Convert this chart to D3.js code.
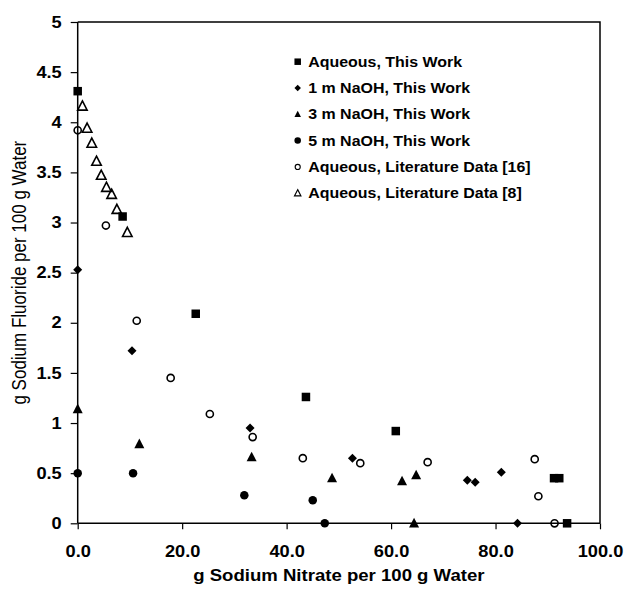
<!DOCTYPE html>
<html>
<head>
<meta charset="utf-8">
<script src="https://cdn.jsdelivr.net/npm/d3@7"></script>
<style>
  body { margin: 0; background: #fff; }
  text { font-family: "Liberation Sans", Arial, sans-serif; fill: #000; }
</style>
</head>
<body>
<script>
var w = 626;
var h = 592;

// tick values
var xTicks = [0, 20, 40, 60, 80, 100];
var yTicks = [0, 0.5, 1, 1.5, 2, 2.5, 3, 3.5, 4, 4.5, 5];

// series (g NaNO3 / 100 g water, g NaF / 100 g water)
var aqX = [0, 8.6, 22.6, 43.7, 60.9, 91.2, 92.2, 93.7];
var aqY = [4.31, 3.06, 2.09, 1.26, 0.92, 0.45, 0.45, 0];

var naoh1X = [0, 10.4, 33.0, 52.6, 74.6, 76.1, 81.1, 84.2];
var naoh1Y = [2.53, 1.72, 0.95, 0.65, 0.43, 0.41, 0.51, 0];

var naoh3X = [0, 11.8, 33.3, 48.7, 62.1, 64.8, 64.4];
var naoh3Y = [1.14, 0.79, 0.66, 0.45, 0.42, 0.48, 0];

var naoh5X = [0, 10.6, 31.9, 45.0, 47.3];
var naoh5Y = [0.50, 0.50, 0.28, 0.23, 0];

var lit16X = [0, 5.4, 11.3, 17.8, 25.3, 33.5, 43.1, 54.1, 67.0, 87.5, 88.2, 91.3];
var lit16Y = [3.92, 2.97, 2.02, 1.45, 1.09, 0.86, 0.65, 0.60, 0.61, 0.64, 0.27, 0];

var lit8X = [0.9, 1.8, 2.7, 3.6, 4.5, 5.5, 6.5, 7.5, 9.5];
var lit8Y = [4.16, 3.94, 3.79, 3.61, 3.47, 3.35, 3.28, 3.13, 2.90];

var seriesNames = [
    "Aqueous, This Work",
    "1 m NaOH, This Work",
    "3 m NaOH, This Work",
    "5 m NaOH, This Work",
    "Aqueous, Literature Data [16]",
    "Aqueous, Literature Data [8]"
];

var margin = {left: 77.7, top: 22, right: 26, bottom: 68.7};
var sx = 1.14; // the original picture is a bit wide

var xScale = d3.scaleLinear()
    .domain([0, 100])
    .range([margin.left, w - margin.right]);

var yScale = d3.scaleLinear()
    .domain([0, 5])
    .range([h - margin.bottom, margin.top]);

var svg = d3.select("body")
    .append("svg")
    .attr("width", w)
    .attr("height", h);

// frame (top and right)
svg.append("path")
    .attr("d", "M" + xScale(0) + "," + yScale(5) + "H" + xScale(100) + "V" + yScale(0))
    .attr("fill", "none")
    .attr("stroke", "#000")
    .attr("stroke-width", 1.5);

var xAxis = d3.axisBottom(xScale)
    .tickValues(xTicks)
    .tickSize(6)
    .tickPadding(16)
    .tickFormat(d3.format(".1f"));

var gx = svg.append("g")
    .attr("transform", "translate(0," + yScale(0) + ")")
    .call(xAxis);

var yAxis = d3.axisLeft(yScale)
    .tickValues(yTicks)
    .tickSize(7)
    .tickPadding(7)
    .tickFormat(function(d) { return String(d); });

var gy = svg.append("g")
    .attr("transform", "translate(" + xScale(0) + ",0)")
    .call(yAxis);

// plain axis lines without outer ticks
gx.select(".domain").attr("d", "M" + xScale(0) + ",0H" + xScale(100));
gy.select(".domain").attr("d", "M0," + yScale(0) + "V" + yScale(5));

[gx, gy].forEach(function(g) {
    g.select(".domain").attr("stroke-width", 1.5);
    g.selectAll(".tick line").attr("stroke-width", 1.2);
    g.selectAll("text")
        .attr("font-size", 16)
        .attr("font-weight", "bold")
        .attr("font-family", "'Liberation Sans', Arial, sans-serif")
        .attr("transform", "scale(" + sx + ",1)");
});

// axis titles
svg.append("text")
    .attr("text-anchor", "middle")
    .attr("font-size", 16.3)
    .attr("font-weight", "bold")
    .attr("transform", "translate(" + ((xScale(0) + xScale(100)) / 2) + ",581) scale(" + sx + ",1)")
    .text("g Sodium Nitrate per 100 g Water");

svg.append("text")
    .attr("text-anchor", "middle")
    .attr("font-size", 17)
    .attr("transform", "translate(26," + ((yScale(0) + yScale(5)) / 2) + ") scale(" + sx + ",1) rotate(-90)")
    .text("g Sodium Fluoride per 100 g Water");

// marker drawing
function drawMarker(sel, kind, s) {
    if (kind === "square") {
        return sel.append("rect")
            .attr("x", -s / 2).attr("y", -s / 2)
            .attr("width", s).attr("height", s)
            .attr("fill", "#000");
    }
    if (kind === "diamond") {
        return sel.append("path")
            .attr("d", "M0," + (-s / 2) + "L" + (s / 2) + ",0L0," + (s / 2) + "L" + (-s / 2) + ",0Z")
            .attr("fill", "#000");
    }
    if (kind === "triangle" || kind === "otriangle") {
        var t = s * 0.55;
        var p = sel.append("path")
            .attr("d", "M0," + (-t) + "L" + (s / 2) + "," + (t * 0.75) + "L" + (-s / 2) + "," + (t * 0.75) + "Z");
        if (kind === "triangle") return p.attr("fill", "#000");
        return p.attr("fill", "none").attr("stroke", "#000").attr("stroke-width", s > 7 ? 1.6 : 1.1);
    }
    if (kind === "circle") {
        return sel.append("circle").attr("r", s / 2).attr("fill", "#000");
    }
    if (kind === "ocircle") {
        return sel.append("circle").attr("r", s / 2 - 0.7)
            .attr("fill", "none").attr("stroke", "#000").attr("stroke-width", s > 7 ? 1.6 : 1.1);
    }
}

var series = [
    {x: aqX, y: aqY, kind: "square", size: 8.5},
    {x: naoh1X, y: naoh1Y, kind: "diamond", size: 9},
    {x: naoh3X, y: naoh3Y, kind: "triangle", size: 10},
    {x: naoh5X, y: naoh5Y, kind: "circle", size: 8.5},
    {x: lit16X, y: lit16Y, kind: "ocircle", size: 8.5},
    {x: lit8X, y: lit8Y, kind: "otriangle", size: 9.5}
];

series.forEach(function(s) {
    var pts = s.x.map(function(v, i) { return [v, s.y[i]]; });
    svg.append("g")
        .selectAll("g")
        .data(pts)
        .enter()
        .append("g")
        .attr("transform", function(d) {
            return "translate(" + xScale(d[0]) + "," + yScale(d[1]) + ")";
        })
        .each(function() { drawMarker(d3.select(this), s.kind, s.size); });
});

// legend
var legend = svg.append("g")
    .selectAll("g")
    .data(series)
    .enter()
    .append("g")
    .attr("transform", function(d, i) {
        return "translate(297.7," + (61.7 + i * 26.3) + ")";
    });

legend.each(function(d) { drawMarker(d3.select(this), d.kind, 6.5); });

legend.append("text")
    .attr("font-size", 14)
    .attr("font-weight", "bold")
    .attr("transform", "translate(10.5,5) scale(" + sx + ",1)")
    .text(function(d, i) { return seriesNames[i]; });
</script>
</body>
</html>
